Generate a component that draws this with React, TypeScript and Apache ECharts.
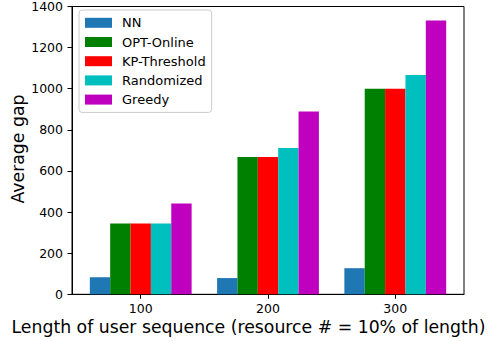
import React, { useEffect, useRef } from "react";
import * as echarts from "echarts";

const categories = ["100", "200", "300"];
const seriesNames = ["NN", "OPT-Online", "KP-Threshold", "Randomized", "Greedy"];
const nnValues = [83, 79, 127];
const optOnlineValues = [345, 668, 1000];
const kpThresholdValues = [345, 668, 1000];
const randomizedValues = [345, 712, 1067];
const greedyValues = [442, 889, 1332];
const yTicks = [0, 200, 400, 600, 800, 1000, 1200, 1400];
const colors = ["#1f77b4", "#008000", "#ff0000", "#00bfbf", "#bf00bf"];

const allValues = [nnValues, optOnlineValues, kpThresholdValues, randomizedValues, greedyValues];

const FONT = "DejaVu Sans";

export default function App() {
  const ref = useRef<HTMLDivElement>(null);
  useEffect(() => {
    if (!ref.current) return;
    const chart = echarts.init(ref.current, null, { renderer: "svg" });
    const gridLeft = 72;
    const gridRight = 464;
    const xMin = -0.54;
    const xMax = 2.54;
    const pxPerUnit = (gridRight - gridLeft) / (xMax - xMin);
    const barW = 0.16 * pxPerUnit;
    chart.setOption({
      animation: false,
      backgroundColor: "#ffffff",
      grid: {
        left: gridLeft,
        right: 501 - gridRight,
        top: 4,
        bottom: 341 - 294.3,
        show: true,
        borderColor: "#000000",
        borderWidth: 1,
        backgroundColor: "transparent",
      },
      xAxis: {
        type: "value",
        min: xMin,
        max: xMax,
        axisLine: { show: true, onZero: false, lineStyle: { color: "#000", width: 1 } },
        axisTick: {
          show: true,
          length: 4.5,
          customValues: [0, 1, 2],
          lineStyle: { color: "#000" },
        },
        axisLabel: {
          customValues: [0, 1, 2],
          formatter: (v: number) => categories[Math.round(v)],
          fontFamily: FONT,
          fontSize: 12.5,
          color: "#000",
          margin: 8,
        },
        splitLine: { show: false },
      },
      yAxis: {
        type: "value",
        min: yTicks[0],
        max: yTicks[yTicks.length - 1],
        interval: yTicks[1] - yTicks[0],
        axisLine: { show: true, onZero: false, lineStyle: { color: "#000", width: 1 } },
        axisTick: { show: true, length: 4.5, lineStyle: { color: "#000" } },
        axisLabel: {
          fontFamily: FONT,
          fontSize: 12.5,
          color: "#000",
          margin: 9,
          formatter: (v: number) => String(v),
        },
        splitLine: { show: false },
      },
      legend: {
        orient: "vertical",
        left: 79,
        top: 10,
        padding: [6.3, 6, 6.3, 6],
        itemWidth: 27,
        itemHeight: 10,
        itemGap: 6.2,
        icon: "rect",
        borderColor: "#cccccc",
        borderWidth: 1,
        borderRadius: 3,
        backgroundColor: "rgba(255,255,255,0.8)",
        textStyle: { fontFamily: FONT, fontSize: 13, color: "#000", lineHeight: 10, padding: [0, 0, 0, 5] },
        data: seriesNames,
      },
      graphic: [
        {
          type: "text",
          x: 248.5,
          y: 327,
          style: {
            text: "Length of user sequence (resource # = 10% of length)",
            fontFamily: FONT,
            fontSize: 17.3,
            fill: "#000",
            align: "center",
            verticalAlign: "middle",
          },
        },
        {
          type: "text",
          x: 18,
          y: 149,
          rotation: Math.PI / 2,
          style: {
            text: "Average gap",
            fontFamily: FONT,
            fontSize: 17.3,
            fill: "#000",
            align: "center",
            verticalAlign: "middle",
          },
        },
      ],
      series: seriesNames.map((name, i) => ({
        name,
        type: "bar",
        barWidth: barW,
        barGap: "0%",
        itemStyle: { color: colors[i] },
        data: allValues[i].map((v, j) => [j, v]),
      })),
    });
    return () => chart.dispose();
  }, []);
  return <div ref={ref} style={{ width: 501, height: 341, position: "absolute", left: 0, top: 0 }} />;
}
